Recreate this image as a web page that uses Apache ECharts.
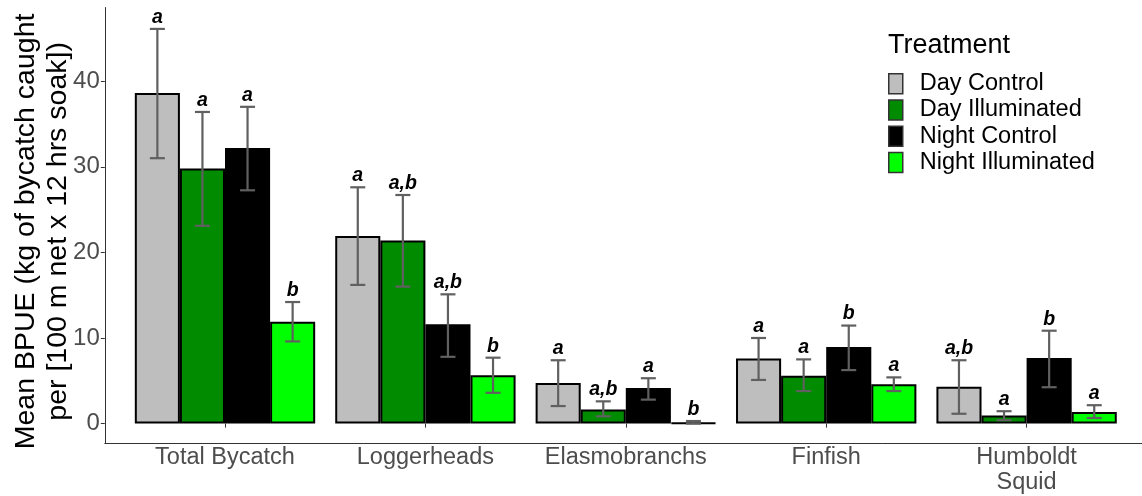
<!DOCTYPE html>
<html>
<head>
<meta charset="utf-8">
<script src="https://cdn.jsdelivr.net/npm/echarts@6/dist/echarts.min.js"></script>
<style>
html,body{margin:0;padding:0;background:#fff;}
#chart{width:1142px;height:496px;}
</style>
</head>
<body>
<div id="chart"></div>
<script>
const categories = ['Total Bycatch', 'Loggerheads', 'Elasmobranchs', 'Finfish', 'Humboldt\nSquid'];
const treatments = ['Day Control', 'Day Illuminated', 'Night Control', 'Night Illuminated'];
const yTicks = [0, 10, 20, 30, 40];

const dayControl     = [38.6, 21.9, 4.75, 7.6, 4.3];
const dayControlLo   = [31.0, 16.2, 2.05, 5.1, 1.15];
const dayControlHi   = [46.1, 27.6, 7.4, 10.0, 7.4];
const dayControlSig  = ['a', 'a', 'a', 'a', 'a,b'];

const dayIllum       = [29.8, 21.4, 1.65, 5.6, 0.95];
const dayIllumLo     = [23.1, 16.0, 0.85, 3.8, 0.4];
const dayIllumHi     = [36.4, 26.7, 2.6, 7.5, 1.45];
const dayIllumSig    = ['a', 'a,b', 'a,b', 'a', 'a'];

const nightControl    = [32.2, 11.6, 4.15, 8.95, 7.65];
const nightControlLo  = [27.25, 7.8, 2.8, 6.25, 4.25];
const nightControlHi  = [37.0, 15.1, 5.3, 11.45, 10.85];
const nightControlSig = ['a', 'a,b', 'a', 'b', 'b'];

const nightIllum      = [11.9, 5.65, 0.1, 4.6, 1.35];
const nightIllumLo    = [9.6, 3.6, 0.0, 3.8, 0.65];
const nightIllumHi    = [14.2, 7.7, 0.3, 5.4, 2.15];
const nightIllumSig   = ['b', 'b', 'b', 'a', 'a'];

const means = [dayControl, dayIllum, nightControl, nightIllum];
const lows  = [dayControlLo, dayIllumLo, nightControlLo, nightIllumLo];
const highs = [dayControlHi, dayIllumHi, nightControlHi, nightIllumHi];
const sigs  = [dayControlSig, dayIllumSig, nightControlSig, nightIllumSig];
const colors = ['#BEBEBE', '#008B00', '#000000', '#00FF00'];

const FONT = 'Liberation Sans, Arial, sans-serif';

const barSeries = treatments.map((name, k) => ({
  name: name,
  type: 'bar',
  xAxisIndex: 0, yAxisIndex: 0,
  barGap: '0%',
  barCategoryGap: '10%',
  itemStyle: { color: colors[k], borderColor: '#000', borderWidth: 2 },
  data: means[k],
  z: 2
}));

const errSeries = treatments.map((name, k) => ({
  name: name + ' err',
  type: 'custom',
  xAxisIndex: 0, yAxisIndex: 0,
  z: 5,
  silent: true,
  encode: { x: 0, y: [1, 2] },
  data: categories.map((c, i) => [i, lows[k][i], highs[k][i], sigs[k][i]]),
  renderItem: function (params, api) {
    const cat = api.value(0);
    const lo = api.value(1), hi = api.value(2);
    const pLo = api.coord([cat, lo]);
    const pHi = api.coord([cat, hi]);
    const band = api.size([1, 0])[0];
    const bw = band * 0.9 / 4;
    const x = pLo[0] + (k - 1.5) * bw;
    const hw = 7.5;
    const st = { stroke: '#606060', lineWidth: 2.2 };
    const label = sigs[k][params.dataIndex];
    return {
      type: 'group',
      children: [
        { type: 'line', shape: { x1: x, y1: pLo[1], x2: x, y2: pHi[1] }, style: st },
        { type: 'line', shape: { x1: x - hw, y1: pLo[1], x2: x + hw, y2: pLo[1] }, style: st },
        { type: 'line', shape: { x1: x - hw, y1: pHi[1], x2: x + hw, y2: pHi[1] }, style: st },
        { type: 'text', style: { text: label, x: x, y: pHi[1] - 1.5, align: 'center', verticalAlign: 'bottom',
          font: 'italic bold 19.5px ' + FONT, fill: '#000' } }
      ]
    };
  }
}));

const chart = echarts.init(document.getElementById('chart'), null, { renderer: 'canvas' });
chart.setOption({
  animation: false,
  backgroundColor: '#fff',
  title: {
    text: 'Treatment',
    left: 888, top: 32.5, padding: 0,
    textStyle: { fontFamily: FONT, fontSize: 27, fontWeight: 'normal', color: '#000', lineHeight: 27 }
  },
  legend: {
    data: treatments,
    orient: 'vertical',
    left: 888, top: 71.7, padding: 0,
    icon: 'rect',
    itemWidth: 14, itemHeight: 20, itemGap: 2.3,
    itemStyle: { borderColor: '#333', borderWidth: 1.5 },
    textStyle: { fontFamily: FONT, fontSize: 23.5, color: '#000', lineHeight: 20, padding: [0, 0, 0, 12] }
  },
  grid: [
    { left: 124.8, right: 15.2, top: 7.5, bottom: 52.7, containLabel: false, outerBoundsMode: 'none' },
    { left: 104.8, right: 0, top: 7.5, bottom: 52.7, containLabel: false, outerBoundsMode: 'none' }
  ],
  xAxis: [
    {
      type: 'category', gridIndex: 0, data: categories,
      axisLine: { show: false },
      axisTick: { show: true, alignWithLabel: true, length: 4, lineStyle: { color: '#333' } },
      axisLabel: { fontFamily: FONT, fontSize: 23.5, color: '#4D4D4D', lineHeight: 25, margin: 2, interval: 0 },
      splitLine: { show: false }
    },
    {
      type: 'value', gridIndex: 1, min: 0, max: 1,
      axisLine: { show: true, onZero: false, lineStyle: { color: '#333', width: 1 } },
      axisTick: { show: false }, axisLabel: { show: false }, splitLine: { show: false }
    }
  ],
  yAxis: [
    {
      type: 'value', gridIndex: 0, min: -2.3, max: 48.6, offset: 20,
      name: 'Mean BPUE (kg of bycatch caught\nper [100 m net x 12 hrs soak])',
      nameLocation: 'middle', nameGap: 31, nameMoveOverlap: false,
      nameTextStyle: { fontFamily: FONT, fontSize: 28.5, color: '#000', lineHeight: 32, padding: [0, 12, 0, 0] },
      axisLine: { show: true, onZero: false, lineStyle: { color: '#333', width: 1 } },
      axisTick: { show: true, length: 4, customValues: yTicks, lineStyle: { color: '#333' } },
      axisLabel: { fontFamily: FONT, fontSize: 24, color: '#4D4D4D', margin: 5, customValues: yTicks },
      splitLine: { show: false }
    },
    { type: 'value', gridIndex: 1, show: false, min: 0, max: 1 }
  ],
  series: barSeries.concat(errSeries)
});
</script>
</body>
</html>
